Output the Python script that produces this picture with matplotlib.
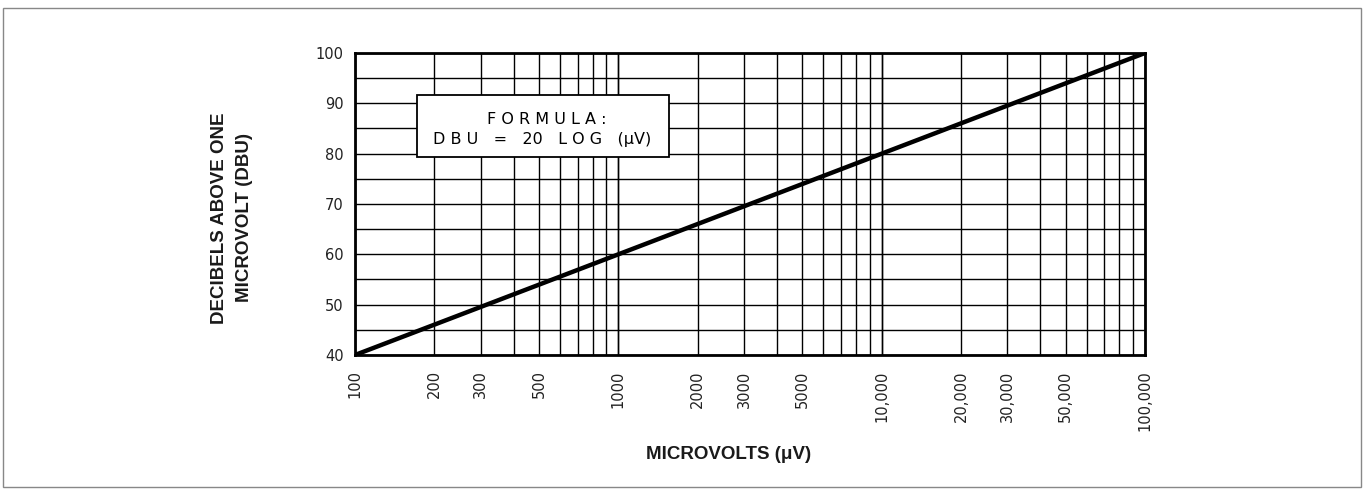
import matplotlib
matplotlib.use("Agg")
import matplotlib.pyplot as plt
from matplotlib.patches import Rectangle

# Conversion line: DBU = 20 log10(microvolts)
microvolts = [100, 1000, 10000, 100000]
dbu = [40, 60, 80, 100]

x_ticks = [100, 200, 300, 500, 1000, 2000, 3000, 5000, 10000, 20000, 30000, 50000, 100000]
x_tick_labels = ["100", "200", "300", "500", "1000", "2000", "3000", "5000",
                 "10,000", "20,000", "30,000", "50,000", "100,000"]
y_ticks = [40, 50, 60, 70, 80, 90, 100]

plt.rcParams['font.family'] = ['Liberation Sans', 'DejaVu Sans']

W, H = 1366, 490
fig = plt.figure(figsize=(W / 100, H / 100), dpi=100)
ax = fig.add_axes([355 / W, 1 - 355 / H, (1145 - 355) / W, (355 - 53) / H])

ax.set_xscale('log')
ax.set_xlim(100, 100000)
ax.set_ylim(40, 100)

# grid: every integer multiple within each decade, every 5 dB
for decade in (100, 1000, 10000):
    for m in range(1, 11):
        ax.axvline(decade * m, color='black', lw=1.0, zorder=1)
for y in range(40, 101, 5):
    ax.axhline(y, color='black', lw=1.0, zorder=1)

ax.plot(microvolts, dbu, color='black', lw=3.2, solid_capstyle='butt', zorder=3)

tick_font = dict(family='DejaVu Sans', color='#222222')
ax.set_xticks(x_ticks)
ax.set_xticklabels(x_tick_labels, rotation=90, fontsize=10.5, **tick_font)
ax.xaxis.set_minor_locator(matplotlib.ticker.NullLocator())
ax.set_yticks(y_ticks)
ax.set_yticklabels([str(v) for v in y_ticks], fontsize=10.5, **tick_font)
ax.tick_params(axis='both', length=0)
ax.tick_params(axis='x', pad=11)
ax.tick_params(axis='y', pad=8)
for s in ax.spines.values():
    s.set_linewidth(2.0)

fig.text(232 / W, 1 - 218 / H, "DECIBELS ABOVE ONE\nMICROVOLT (DBU)", rotation=90,
         ha='center', va='center', fontsize=13.5, fontweight='bold', linespacing=1.55,
         multialignment='center', color='#1a1a1a')
fig.text(729 / W, 1 - 454 / H, "MICROVOLTS (μV)", ha='center', va='center',
         fontsize=13.5, fontweight='bold', color='#1a1a1a')

# formula box
fig.patches.append(Rectangle((417 / W, 1 - 157 / H), (669 - 417) / W, (157 - 95) / H,
                             transform=fig.transFigure, facecolor='white', edgecolor='black',
                             lw=1.3, zorder=5))
fig.text(547 / W, 1 - 119 / H, "F O R M U L A :", ha='center', va='center',
         fontsize=11.5, family='DejaVu Sans', zorder=6)
fig.text(542 / W, 1 - 139 / H, "D B U   =   20   L O G   (μV)", ha='center', va='center',
         fontsize=11.5, family='DejaVu Sans', zorder=6)

# page frame
fig.patches.append(Rectangle((3 / W, 3 / H), 1358 / W, 479 / H, transform=fig.transFigure,
                             facecolor='none', edgecolor='#888888', lw=1.0))

fig.savefig("out.png", dpi=100, facecolor='white')
